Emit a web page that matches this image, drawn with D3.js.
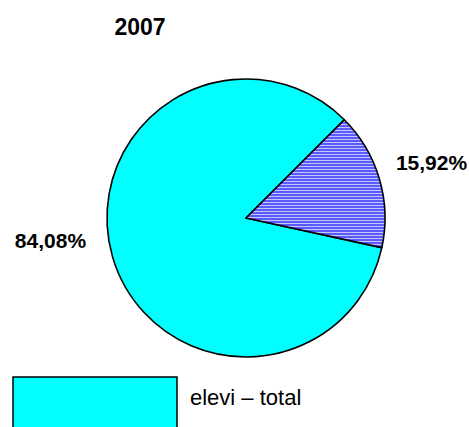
<!DOCTYPE html>
<html>
<head>
<meta charset="utf-8">
<script src="https://cdn.jsdelivr.net/npm/d3@7"></script>
<style>
  body { margin: 0; background: #fff; }
  svg { display: block; font-family: "Liberation Sans", Arial, sans-serif; }
</style>
</head>
<body>
<svg width="469" height="427"></svg>
<script>
// data
var title = "2007";
var categories = ["elevi – total", "elevi – altele"];
var values = [84.08, 15.92];
var labels = ["84,08%", "15,92%"];

var svg = d3.select("svg");
var cx = 246, cy = 218, radius = 139;

var defs = svg.append("defs");
var pat = defs.append("pattern")
    .attr("id", "stripes")
    .attr("patternUnits", "userSpaceOnUse")
    .attr("width", 4).attr("height", 3);
pat.append("rect").attr("width", 4).attr("height", 3).attr("fill", "#5a5aff");
pat.append("rect").attr("y", 2).attr("width", 4).attr("height", 1).attr("fill", "#c4c4ff");

var fills = ["#00ffff", "url(#stripes)"];

// small slice begins at 45deg, so the pie starts where the big one does
var total = d3.sum(values);
var start = Math.PI / 4 + 2 * Math.PI * values[1] / total;

var pie = d3.pie().sort(null).value(function(d) { return d; })
    .startAngle(start).endAngle(start + 2 * Math.PI);
var arc = d3.arc().innerRadius(0).outerRadius(radius);
var arcs = pie(values);

var g = svg.append("g").attr("transform", "translate(" + cx + "," + cy + ")");

g.selectAll("path.slice")
  .data(arcs)
  .enter().append("path")
    .attr("class", "slice")
    .attr("d", arc)
    .attr("fill", function(d, i) { return fills[i]; })
    .attr("stroke", "#000")
    .attr("stroke-width", 1.6)
    .attr("stroke-linejoin", "round");

// labels outside the pie
var labelR = 185;
var nudge = [[-18, -29], [8, -3]];
g.selectAll("text.lbl")
  .data(arcs)
  .enter().append("text")
    .attr("class", "lbl")
    .attr("x", function(d, i) {
      var a = (d.startAngle + d.endAngle) / 2;
      return Math.sin(a) * labelR + nudge[i][0];
    })
    .attr("y", function(d, i) {
      var a = (d.startAngle + d.endAngle) / 2;
      return -Math.cos(a) * labelR + nudge[i][1];
    })
    .attr("dy", "0.35em")
    .attr("text-anchor", "middle")
    .attr("font-size", 21)
    .attr("font-weight", "bold")
    .text(function(d, i) { return labels[i]; });

svg.append("text")
    .attr("x", 140).attr("y", 35)
    .attr("text-anchor", "middle")
    .attr("font-size", 23)
    .attr("font-weight", "bold")
    .text(title);

// legend: only the first entry fits in the picture
var legend = svg.append("g").attr("transform", "translate(13,377)");
var item = legend.selectAll("g.item")
  .data(categories.slice(0, 1))
  .enter().append("g")
    .attr("class", "item");
item.append("rect")
    .attr("width", 164).attr("height", 60)
    .attr("fill", function(d, i) { return fills[i]; })
    .attr("stroke", "#000")
    .attr("stroke-width", 1.5);
item.append("text")
    .attr("x", 177).attr("y", 28)
    .attr("font-size", 22)
    .text(function(d) { return d; });
</script>
</body>
</html>
